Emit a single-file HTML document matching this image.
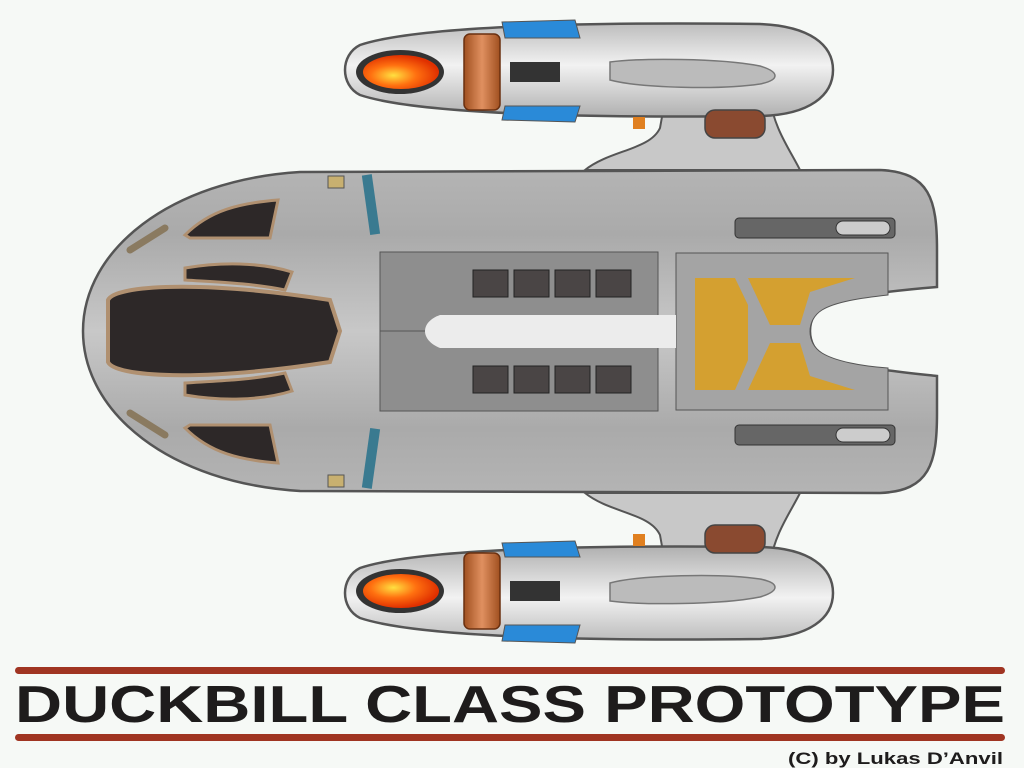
<!DOCTYPE html>
<html><head><meta charset="utf-8"><style>
html,body{margin:0;padding:0;background:#f6f9f6;}
svg{display:block}
</style></head><body>
<svg width="1024" height="768" viewBox="0 0 1024 768" xmlns="http://www.w3.org/2000/svg">
<defs>
<linearGradient id="hull" x1="0" y1="0" x2="0" y2="1">
<stop offset="0" stop-color="#b4b4b4"/><stop offset="0.2" stop-color="#aaaaaa"/><stop offset="0.5" stop-color="#c8c8c8"/><stop offset="0.8" stop-color="#aaaaaa"/><stop offset="1" stop-color="#b4b4b4"/>
</linearGradient>
<linearGradient id="nac" x1="0" y1="0" x2="0" y2="1">
<stop offset="0" stop-color="#bdbdbd"/><stop offset="0.45" stop-color="#f2f2f2"/><stop offset="1" stop-color="#b0b0b0"/>
</linearGradient>
<radialGradient id="eng" cx="0.4" cy="0.6" r="0.6">
<stop offset="0" stop-color="#ffe040"/><stop offset="0.5" stop-color="#ff7010"/><stop offset="1" stop-color="#e03000"/>
</radialGradient>
<linearGradient id="cop" x1="0" y1="0" x2="1" y2="0">
<stop offset="0" stop-color="#a05020"/><stop offset="0.5" stop-color="#e09060"/><stop offset="1" stop-color="#a05020"/>
</linearGradient>
<g id="nacelle">
<path d="M585 170 C610 150 650 150 660 128 L665 100 L770 100 C775 130 790 150 800 170 Z" fill="#c8c8c8" stroke="#555" stroke-width="2"/>
<path d="M360 45 C420 25 600 22 760 24 C810 26 833 45 833 70 C833 95 810 115 760 116 C600 118 420 115 360 95 C340 85 340 55 360 45 Z" fill="url(#nac)" stroke="#555" stroke-width="2.5"/>
<path d="M610 62 C640 58 720 58 760 66 C780 72 780 80 760 84 C720 90 640 88 610 80 Z" fill="#bbb" stroke="#777" stroke-width="1.5"/>
<ellipse cx="400" cy="72" rx="44" ry="22" fill="#333"/>
<ellipse cx="401" cy="72" rx="38" ry="17" fill="url(#eng)"/>
<rect x="464" y="34" width="36" height="76" rx="6" fill="url(#cop)" stroke="#6a3010" stroke-width="1.5"/>
<path d="M502 22 L575 20 L580 38 L505 38 Z" fill="#2a8ad8" stroke="#555"/>
<path d="M502 120 L575 122 L580 106 L505 106 Z" fill="#2a8ad8" stroke="#555"/>
<rect x="510" y="62" width="50" height="20" fill="#333"/>
<rect x="705" y="110" width="60" height="28" rx="10" fill="#8a4a30" stroke="#444" stroke-width="1.5"/>
<rect x="633" y="117" width="12" height="12" fill="#e08020"/>
</g>
<g id="halfhull">
<rect x="380" y="252" width="278" height="80" fill="#8e8e8e" stroke="#555"/>
<rect x="473" y="270" width="35" height="27" fill="#4a4545" stroke="#222"/>
<rect x="514" y="270" width="35" height="27" fill="#4a4545" stroke="#222"/>
<rect x="555" y="270" width="35" height="27" fill="#4a4545" stroke="#222"/>
<rect x="596" y="270" width="35" height="27" fill="#4a4545" stroke="#222"/>
<rect x="735" y="218" width="160" height="20" rx="4" fill="#666" stroke="#333"/>
<rect x="836" y="221" width="54" height="14" rx="7" fill="#ccc" stroke="#333"/>
<path d="M185 235 C210 210 240 203 278 200 L270 238 L190 238 Z" fill="#2d2828" stroke="#b09070" stroke-width="3"/>
<path d="M185 268 C220 262 260 262 292 272 L285 290 C250 283 215 282 185 280 Z" fill="#2d2828" stroke="#b09070" stroke-width="3"/>
<rect x="366" y="175" width="10" height="60" fill="#3a7a90" transform="rotate(-8 368 205)"/>
<rect x="328" y="176" width="16" height="12" fill="#c8b070" stroke="#555"/>
<path d="M130 250 L165 228" stroke="#8a7a60" stroke-width="7" stroke-linecap="round"/>
</g>
</defs>

<!-- main hull -->
<path d="M83 331 C83 250 170 180 300 172 L880 170 C930 172 937 200 937 250 L937 287 C900 290 850 295 825 305 C805 315 805 347 825 357 C850 367 900 372 937 376 L937 413 C937 463 930 491 880 493 L300 491 C170 483 83 413 83 331 Z" fill="url(#hull)" stroke="#555" stroke-width="2.5"/>
<use href="#halfhull"/>
<use href="#halfhull" transform="matrix(1 0 0 -1 0 663)"/>
<path d="M676 253 L888 253 L888 295 C860 298 835 302 822 310 C806 320 806 343 822 353 C835 361 860 366 888 368 L888 410 L676 410 Z" fill="#a4a4a4" stroke="#555"/>
<path d="M695 278 L735 278 L748 305 L748 360 L735 390 L695 390 Z" fill="#d4a030"/>
<path d="M748 278 L855 278 L810 292 L800 325 L770 325 Z" fill="#d4a030"/>
<path d="M748 390 L855 390 L810 376 L800 343 L770 343 Z" fill="#d4a030"/>
<path d="M440 315 L676 315 L676 348 L440 348 C420 340 420 322 440 315 Z" fill="#ececec"/>
<path d="M108 300 C115 285 200 280 330 300 L340 331 L330 362 C200 382 115 377 108 362 Z" fill="#2d2828" stroke="#b09070" stroke-width="4"/>
<use href="#nacelle"/>
<use href="#nacelle" transform="matrix(1 0 0 -1 0 663)"/>

<!-- title -->
<rect x="15" y="667" width="990" height="7" rx="3.5" fill="#a03522"/>
<rect x="15" y="734" width="990" height="7" rx="3.5" fill="#a03522"/>
<text x="15" y="722" textLength="990" lengthAdjust="spacingAndGlyphs" font-family="Liberation Sans, sans-serif" font-weight="bold" font-size="52" fill="#1e1c1c">DUCKBILL CLASS PROTOTYPE</text>
<text x="788" y="764" textLength="215" lengthAdjust="spacingAndGlyphs" font-family="Liberation Sans, sans-serif" font-weight="bold" font-size="17" fill="#1e1c1c">(C) by Lukas D’Anvil</text>
</svg>
</body></html>
